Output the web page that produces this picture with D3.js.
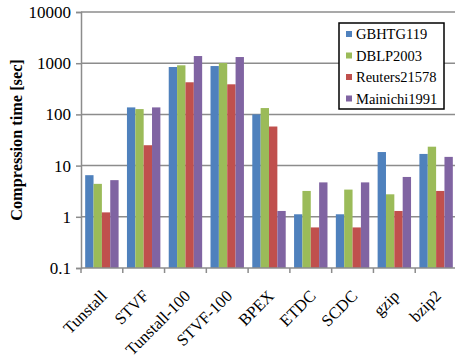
<!DOCTYPE html>
<html>
<head>
<meta charset="utf-8">
<script src="https://cdn.jsdelivr.net/npm/d3@7"></script>
<style>
  body { margin: 0; background: #fff; }
  svg { display: block; font-family: "Liberation Serif", "Times New Roman", serif; }
</style>
</head>
<body>
<div id="chart"></div>
<script>
// Compression time per method and corpus (log scale)
var methods = ['Tunstall', 'STVF', 'Tunstall-100', 'STVF-100', 'BPEX', 'ETDC', 'SCDC', 'gzip', 'bzip2'];
var seriesNames = ['GBHTG119', 'DBLP2003', 'Reuters21578', 'Mainichi1991'];
var seriesColors = ['#4F81BD', '#9BBB59', '#C0504D', '#8064A2'];

var gbhtg = [6.5, 137, 843, 880, 100, 1.12, 1.12, 18.4, 16.9];
var dblp = [4.4, 127, 910, 1010, 133, 3.2, 3.4, 2.75, 23.4];
var reuters = [1.22, 25, 424, 387, 58, 0.62, 0.62, 1.3, 3.2];
var mainichi = [5.2, 137, 1380, 1320, 1.3, 4.7, 4.7, 6.0, 14.8];

var yTicks = [0.1, 1, 10, 100, 1000, 10000];

var width = 455, height = 360;
var margin = { top: 12, left: 81, bottom: 92 };
var plotW = 376; // extends slightly past the right edge like the original
var y0 = height - margin.bottom;

var svg = d3.select('#chart').append('svg')
    .attr('width', width)
    .attr('height', height);

var x = d3.scaleBand()
    .domain(methods)
    .range([margin.left, margin.left + plotW])
    .paddingInner(0.2)
    .paddingOuter(0.1);

var xs = d3.scaleBand()
    .domain(seriesNames)
    .range([0, x.bandwidth()]);

var y = d3.scaleLog()
    .domain([0.1, 10000])
    .range([y0, margin.top]);

// Gridlines
svg.append('g')
    .selectAll('line')
    .data(yTicks.slice(1))
    .enter()
    .append('line')
    .attr('x1', margin.left)
    .attr('x2', width)
    .attr('y1', d => y(d))
    .attr('y2', d => y(d))
    .attr('stroke', '#8c8c8c')
    .attr('stroke-width', 1.5);

// Bars
var data = [gbhtg, dblp, reuters, mainichi];
seriesNames.forEach(function (s, i) {
    svg.append('g')
        .selectAll('rect')
        .data(data[i])
        .enter()
        .append('rect')
        .attr('x', (d, j) => x(methods[j]) + xs(s))
        .attr('width', xs.bandwidth())
        .attr('y', d => y(d))
        .attr('height', d => y(0.1) - y(d))
        .attr('fill', seriesColors[i]);
});

// Y axis
var yAxis = d3.axisLeft(y)
    .tickValues(yTicks)
    .tickFormat(d => String(d))
    .tickSize(5)
    .tickPadding(5);
var gy = svg.append('g')
    .attr('transform', `translate(${margin.left},0)`)
    .call(yAxis);
gy.select('.domain').attr('stroke', '#8c8c8c').attr('stroke-width', 1.5);
gy.selectAll('.tick line').attr('stroke', '#8c8c8c').attr('stroke-width', 1.5);
gy.selectAll('.tick text')
    .attr('font-size', 17)
    .attr('font-family', '"Liberation Serif", serif')
    .attr('fill', '#000');

// X axis baseline with ticks between categories
var step = x.step();
var gx = svg.append('g');
gx.append('line')
    .attr('x1', margin.left)
    .attr('x2', width)
    .attr('y1', y(0.1))
    .attr('y2', y(0.1))
    .attr('stroke', '#8c8c8c')
    .attr('stroke-width', 1.5);
gx.selectAll('line.tk')
    .data(methods)
    .enter()
    .append('line')
    .attr('class', 'tk')
    .attr('x1', d => x(d) - step * 0.1)
    .attr('x2', d => x(d) - step * 0.1)
    .attr('y1', y(0.1))
    .attr('y2', y(0.1) + 5)
    .attr('stroke', '#8c8c8c')
    .attr('stroke-width', 1.5);

gx.selectAll('text')
    .data(methods)
    .enter()
    .append('text')
    .attr('transform', d => `translate(${x(d) + x.bandwidth() / 2 + 6},${y(0.1) + 29}) rotate(-45)`)
    .attr('text-anchor', 'end')
    .attr('font-size', 16.5)
    .attr('fill', '#000')
    .text(d => d);

// Y title
svg.append('text')
    .attr('transform', `translate(22,${(y(0.1) + margin.top) / 2}) rotate(-90)`)
    .attr('text-anchor', 'middle')
    .attr('font-size', 16.3)
    .attr('font-weight', 'bold')
    .text('Compression time [sec]');

// Legend
var lg = svg.append('g').attr('transform', 'translate(339,23)');
lg.append('rect')
    .attr('width', 105)
    .attr('height', 86)
    .attr('fill', '#fff')
    .attr('stroke', '#000')
    .attr('stroke-width', 1.5);
seriesNames.forEach(function (s, i) {
    var row = lg.append('g').attr('transform', `translate(7,${13 + i * 21.5})`);
    row.append('rect')
        .attr('x', 0)
        .attr('y', -5)
        .attr('width', 6)
        .attr('height', 6)
        .attr('fill', seriesColors[i]);
    row.append('text')
        .attr('x', 10)
        .attr('y', 3)
        .attr('font-size', 14.5)
        .text(s);
});
</script>
</body>
</html>
